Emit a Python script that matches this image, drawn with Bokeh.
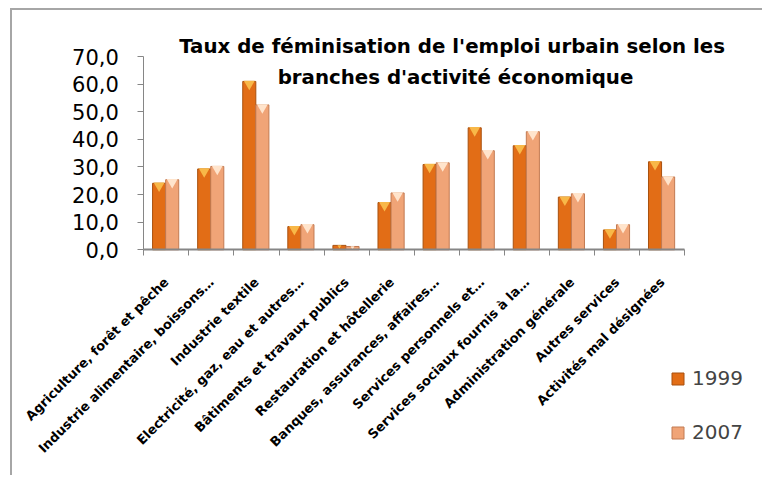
import math
from bokeh.plotting import figure
from bokeh.models import FixedTicker, Label, Legend, LegendItem, ColumnDataSource
from bokeh.embed import file_html
from bokeh.resources import INLINE

categories = [
    "Agriculture, forêt et pêche",
    "Industrie alimentaire, boissons…",
    "Industrie textile",
    "Electricité, gaz, eau et autres…",
    "Bâtiments et travaux publics",
    "Restauration et hôtellerie",
    "Banques, assurances, affaires…",
    "Services personnels et…",
    "Services sociaux fournis à la…",
    "Administration générale",
    "Autres services",
    "Activités mal désignées",
]
v1999 = [24.1, 29.3, 61.0, 8.4, 1.6, 17.1, 30.9, 44.2, 37.7, 19.1, 7.2, 31.9]
v2007 = [25.4, 30.2, 52.5, 9.1, 1.2, 20.6, 31.5, 35.9, 42.8, 20.3, 9.1, 26.4]
years = ["1999", "2007"]
y_ticks = [0, 10, 20, 30, 40, 50, 60, 70]
title_lines = ["Taux de féminisation de l'emploi urbain selon  les",
               "branches d'activité économique"]

FONT = "DejaVu Sans"
N = len(categories)

centers = [i + 0.5 for i in range(N)]
x1 = [i + 0.34 for i in range(N)]
x2 = [i + 0.63 for i in range(N)]


def bevel(vals):
    sizes = [11 if v >= 4 else 4 for v in vals]
    tri = [v - s * 0.082 for v, s in zip(vals, sizes)]
    return sizes, tri


s1, t1 = bevel(v1999)
s2, t2 = bevel(v2007)
src1 = ColumnDataSource(dict(x=x1, top=v1999, tri=t1, s=s1))
src2 = ColumnDataSource(dict(x=x2, top=v2007, tri=t2, s=s2))

# Frame covers the whole canvas; axes are pinned with fixed_location
p = figure(width=752, height=467, x_range=(-2.912, 13.768), y_range=(-82.5, 86.7),
           output_backend="svg", toolbar_location=None,
           min_border=0, min_border_left=0, min_border_right=0,
           min_border_top=0, min_border_bottom=0)
p.styles = {"border-top": "2px solid #a6a6a6", "border-left": "2px solid #a6a6a6",
            "margin-top": "8px", "margin-left": "10px"}
p.xgrid.visible = False
p.ygrid.visible = False
p.outline_line_color = None

r1 = p.vbar(x="x", top="top", bottom=0, width=0.29, source=src1,
            fill_color="#E26D16", line_color="#A8510F", line_width=1)
r2 = p.vbar(x="x", top="top", bottom=0, width=0.29, source=src2,
            fill_color="#F0A477", line_color="#C27A52", line_width=1)
p.scatter(x="x", y="tri", source=src1, marker="inverted_triangle", size="s",
          fill_color="#F8B848", line_color=None)
p.scatter(x="x", y="tri", source=src2, marker="inverted_triangle", size="s",
          fill_color="#FFE4CC", line_color=None)

# Y axis
yax = p.yaxis[0]
yax.fixed_location = 0
yax.bounds = (0, 70)
yax.ticker = FixedTicker(ticks=y_ticks, minor_ticks=[])
yax.major_label_overrides = {t: f"{t},0" for t in y_ticks}
yax.major_label_text_font = FONT
yax.major_label_text_font_size = "21px"
yax.major_label_text_color = "black"
yax.axis_line_color = "#868686"
yax.major_tick_line_color = "#868686"
yax.major_tick_out = 6
yax.major_tick_in = 0
yax.major_label_standoff = 19

# X axis
xax = p.xaxis[0]
xax.fixed_location = 0
xax.bounds = (0, N)
xax.ticker = FixedTicker(ticks=centers, minor_ticks=list(range(N + 1)))
xax.major_label_overrides = {c: cat for c, cat in zip(centers, categories)}
xax.major_label_orientation = math.pi / 4
xax.major_label_text_font = FONT
xax.major_label_text_font_style = "bold"
xax.major_label_text_font_size = "13px"
xax.major_label_text_color = "black"
xax.major_tick_line_color = None
xax.minor_tick_line_color = "#868686"
xax.minor_tick_out = 6
xax.minor_tick_in = 0
xax.axis_line_color = "#868686"
xax.axis_line_width = 2
xax.major_label_standoff = 24

for text, y in zip(title_lines, [431, 400]):
    p.add_layout(Label(x=443, y=y, x_units="screen", y_units="screen", text=text,
                       text_align="center", text_baseline="middle",
                       text_font=FONT, text_font_style="bold",
                       text_font_size="19.8px", text_color="black"))

legend = Legend(items=[LegendItem(label=years[0], renderers=[r1]),
                       LegendItem(label=years[1], renderers=[r2])],
                location=(658, 33), glyph_width=15, glyph_height=15,
                label_text_font=FONT, label_text_font_size="20px",
                spacing=30, padding=0, margin=0, label_standoff=7,
                border_line_color=None, background_fill_alpha=0)
p.add_layout(legend)

open("out.html", "w").write(file_html(p, INLINE))
